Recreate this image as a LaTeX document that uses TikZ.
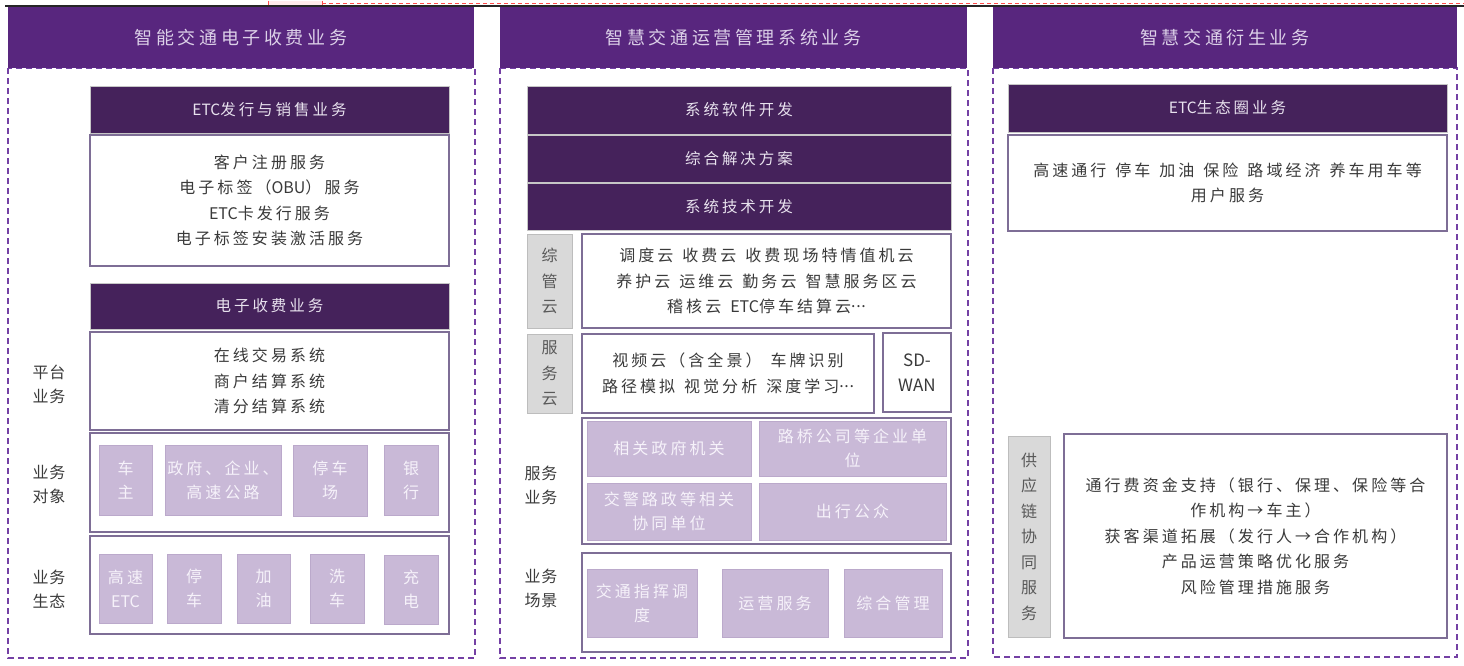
\documentclass[tikz,border=0pt]{standalone}
\usepackage{fontspec}
\newfontfamily\cjk[LetterSpace=19]{Noto Sans CJK SC}
\newfontfamily\cjkh[LetterSpace=20]{Noto Sans CJK SC}
\newfontfamily\cjkl[LetterSpace=6]{Noto Sans CJK SC}
\newfontfamily\latf{Noto Sans CJK SC}
\newcommand\en[1]{{\latf #1}}
\newcommand\gp{\hspace{9pt}}
\newcommand\mdots{\raisebox{5pt}{\latf .\kern0.6pt.\kern0.6pt.}}
\definecolor{hdrP}{HTML}{58267E}
\definecolor{hdrT}{HTML}{DCD0E8}
\definecolor{barP}{HTML}{45225B}
\definecolor{barT}{HTML}{E8E2EE}
\definecolor{boxB}{HTML}{7E6E96}
\definecolor{bodyT}{HTML}{3A3A3A}
\definecolor{itemP}{HTML}{C9B9D7}
\definecolor{itemB}{HTML}{BBA9CB}
\definecolor{itemT}{HTML}{F6F2FA}
\definecolor{grayF}{HTML}{D9D9D9}
\definecolor{grayB}{HTML}{BDBDBD}
\definecolor{grayT}{HTML}{595959}
\definecolor{dashP}{HTML}{7440A4}
\tikzset{
  base/.style={inner sep=0pt, outer sep=0pt, anchor=center, align=center},
  hdr/.style={base, fill=hdrP, text=hdrT, font=\cjkh\fontsize{18}{24}\selectfont},
  bar/.style={base, fill=barP, draw=gray!45, line width=0.8pt, text=barT, font=\cjk\fontsize{15.5}{24}\selectfont},
  wbox/.style={base, fill=white, draw=boxB, line width=1.3pt, text=bodyT, font=\cjk\fontsize{16}{25.5}\selectfont},
  item/.style={base, fill=itemP, draw=itemB, line width=0.6pt, text=itemT, font=\cjk\fontsize{16}{24}\selectfont},
  glabel/.style={base, fill=grayF, draw=grayB, line width=0.8pt, text=grayT, font=\cjk\fontsize{16}{25.5}\selectfont},
  lbl/.style={base, text=bodyT, font=\cjkl\fontsize{16}{24}\selectfont},
  dashbox/.style={draw=dashP, line width=1.6pt, dash pattern=on 6pt off 4pt},
  sdbox/.style={wbox, font=\latf\fontsize{17}{25}\selectfont},
}
\newcommand\bx[7]{\node[#2, minimum width={(#5-#3)*1pt}, minimum height={(#6-#4)*1pt}] (#1) at ({(#3+#5)/2},{(#4+#6)/2}) {#7};}
\begin{document}
\begin{tikzpicture}[x=1pt,y=-1pt]
\useasboundingbox (0,0) rectangle (1464,665);

% ================= column 1
\draw[dashbox] (8,68) rectangle (475,658);
\bx{h1}{hdr}{8}{7}{474}{68}{智能交通电子收费业务}
\bx{b11}{bar}{90}{86}{449}{133}{\en{ETC}发行与销售业务}
\bx{w11}{wbox}{90}{135}{449}{266}{客户注册服务\\电子标签（\en{OBU}）服务\\\en{ETC}卡发行服务\\电子标签安装激活服务}
\bx{b12}{bar}{90}{283}{449}{329}{电子收费业务}
\bx{w12}{wbox}{90}{332}{449}{430}{在线交易系统\\商户结算系统\\清分结算系统}
\bx{w13}{wbox}{90}{433}{449}{532}{}
\bx{i11}{item}{99}{445}{152}{515}{车\\主}
\bx{i12}{item}{165}{445}{281}{515}{政府、企业、\\高速公路}
\bx{i13}{item}{293}{445}{367}{516}{停车\\场}
\bx{i14}{item}{384}{445}{438}{515}{银\\行}
\bx{w14}{wbox}{90}{536}{449}{634}{}
\bx{i21}{item}{99}{554}{152}{623}{高速\\\en{ETC}}
\bx{i22}{item}{167}{554}{221}{623}{停\\车}
\bx{i23}{item}{237}{554}{290}{623}{加\\油}
\bx{i24}{item}{310}{554}{364}{623}{洗\\车}
\bx{i25}{item}{384}{555}{438}{624}{充\\电}
\node[lbl] (l11) at (49,384) {平台\\业务};
\node[lbl] (l12) at (49,484.5) {业务\\对象};
\node[lbl] (l13) at (49,589.5) {业务\\生态};

% ================= column 2
\draw[dashbox] (500,68) rectangle (968,658);
\bx{h2}{hdr}{500}{7}{967}{68}{智慧交通运营管理系统业务}
\bx{b21}{bar}{527}{86}{951}{134}{系统软件开发}
\bx{b22}{bar}{527}{135}{951}{182}{综合解决方案}
\bx{b23}{bar}{527}{183}{951}{230}{系统技术开发}
\bx{g21}{glabel}{527}{234}{572}{328}{综\\管\\云}
\bx{w21}{wbox}{582}{234}{951}{328}{调度云\gp 收费云\gp 收费现场特情值机云\\养护云\gp 运维云\gp 勤务云\gp 智慧服务区云\\稽核云\gp \en{ETC}停车结算云\mdots}
\bx{g22}{glabel}{527}{334}{572}{413}{服\\务\\云}
\bx{w22}{wbox}{582}{334}{874}{413}{视频云（含全景）\gp 车牌识别\\路径模拟\gp 视觉分析\gp 深度学习\mdots}
\bx{w23}{sdbox}{883}{333}{951}{412}{SD-\\WAN}
\bx{w24}{wbox}{582}{418}{951}{544}{}
\bx{s21}{item}{587}{421}{751}{476}{相关政府机关}
\bx{s22}{item}{759}{421}{946}{476}{路桥公司等企业单\\位}
\bx{s23}{item}{587}{483}{751}{540}{交警路政等相关\\协同单位}
\bx{s24}{item}{759}{483}{946}{540}{出行公众}
\bx{w25}{wbox}{582}{553}{951}{652}{}
\bx{s25}{item}{587}{569}{697}{637}{交通指挥调\\度}
\bx{s26}{item}{722}{569}{828}{637}{运营服务}
\bx{s27}{item}{844}{569}{942}{637}{综合管理}
\node[lbl] (l21) at (541,485) {服务\\业务};
\node[lbl] (l22) at (541,588.5) {业务\\场景};

% ================= column 3
\draw[dashbox] (993,68) rectangle (1457,657);
\bx{h3}{hdr}{993}{7}{1457}{68}{智慧交通衍生业务}
\bx{b31}{bar}{1008}{84}{1447}{132}{\en{ETC}生态圈业务}
\bx{w31}{wbox}{1008}{135}{1447}{231}{高速通行\gp 停车\gp 加油\gp 保险\gp 路域经济\gp 养车用车等\\用户服务}
\bx{g31}{glabel}{1008}{436}{1050}{637}{\fontsize{16}{27}\selectfont 供\\应\\链\\协\\同\\服\\务}
\bx{w32}{wbox}{1064}{434}{1447}{638}{通行费资金支持（银行、保理、保险等合\\作机构→车主）\\获客渠道拓展（发行人→合作机构）\\产品运营策略优化服务\\风险管理措施服务}

% top edge artefacts
\fill[red!8] (268,0.5) rectangle (322,5);
\draw[red!70, line width=0.8pt] (268,0.5) -- (268,5) (322,0.5) -- (322,5);
\draw[red!70, line width=0.8pt, dash pattern=on 4pt off 3pt] (322,3.5) -- (1464,3.5);
\draw[black!85, line width=1.2pt] (5,6) -- (1464,6);
\end{tikzpicture}
\end{document}
